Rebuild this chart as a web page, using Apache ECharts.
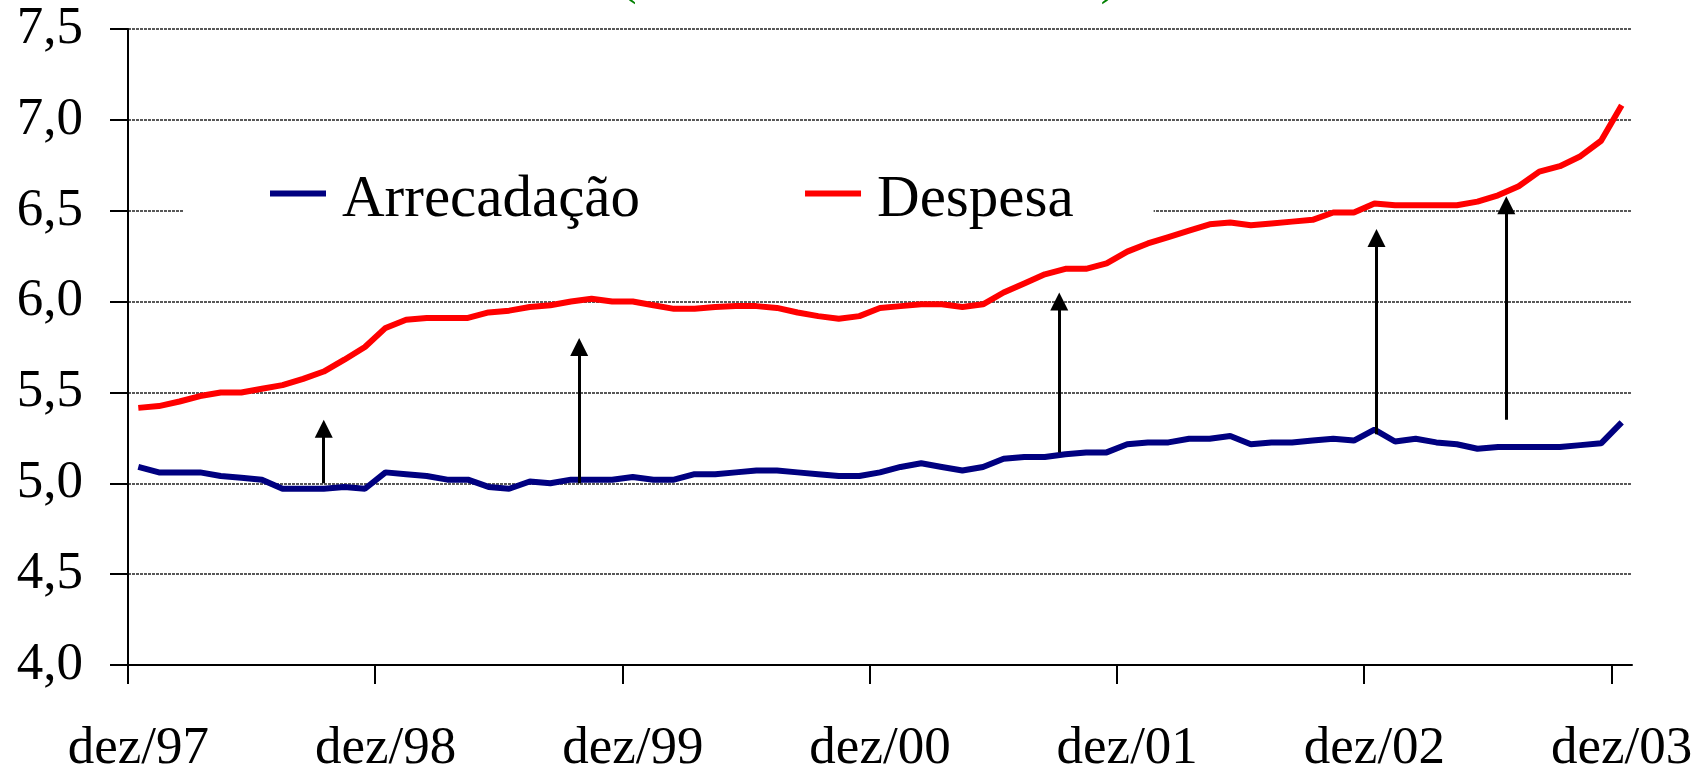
<!DOCTYPE html>
<html>
<head>
<meta charset="utf-8">
<title>Arrecadação x Despesa</title>
<script src="https://cdn.jsdelivr.net/npm/echarts@6/dist/echarts.min.js"></script>
<style>
  html, body { margin: 0; padding: 0; background: #fff; }
  #chart { width: 1706px; height: 777px; }
</style>
</head>
<body>
<div id="chart"></div>
<script>
// meses de dez/97 a dez/03
const monthNames = ['jan', 'fev', 'mar', 'abr', 'mai', 'jun', 'jul', 'ago', 'set', 'out', 'nov', 'dez']
const years = ['97', '98', '99', '00', '01', '02', '03']
const categories = ['dez/97']
for (let y = 1; y < years.length; y++) {
  monthNames.forEach(m => categories.push(m + '/' + years[y]))
}

const arrecadacao = [
  5.09, 5.06, 5.06, 5.06, 5.04, 5.03, 5.02, 4.97, 4.97, 4.97, 4.98, 4.97,
  5.06, 5.05, 5.04, 5.02, 5.02, 4.98, 4.97, 5.01, 5.00, 5.02, 5.02, 5.02,
  5.035, 5.02, 5.02, 5.05, 5.05, 5.06, 5.07, 5.07, 5.06, 5.05, 5.04, 5.04,
  5.06, 5.09, 5.11, 5.09, 5.07, 5.09, 5.135, 5.145, 5.145, 5.16, 5.17, 5.17,
  5.215, 5.225, 5.225, 5.245, 5.245, 5.26, 5.215, 5.225, 5.225, 5.235, 5.245, 5.235,
  5.295, 5.23, 5.245, 5.225, 5.215, 5.19, 5.2, 5.2, 5.2, 5.2, 5.21, 5.22,
  5.335
]

const despesa = [
  5.415, 5.425, 5.45, 5.48, 5.50, 5.50, 5.52, 5.54, 5.575, 5.615, 5.68, 5.75,
  5.855, 5.90, 5.91, 5.91, 5.91, 5.94, 5.95, 5.97, 5.98, 6.00, 6.015, 6.00,
  6.00, 5.98, 5.96, 5.96, 5.97, 5.975, 5.975, 5.965, 5.94, 5.92, 5.905, 5.92,
  5.965, 5.975, 5.985, 5.985, 5.97, 5.985, 6.05, 6.10, 6.15, 6.18, 6.18, 6.21,
  6.275, 6.32, 6.355, 6.39, 6.425, 6.435, 6.42, 6.43, 6.44, 6.45, 6.49, 6.49,
  6.54, 6.53, 6.53, 6.53, 6.53, 6.55, 6.585, 6.635, 6.715, 6.745, 6.80, 6.885,
  7.08
]

// setas (posição em meses a partir de dez/97, valor inicial e final)
const arrowX = [9.5, 21.9, 45.2, 60.6, 66.9]
const arrowFrom = [5.0, 5.0, 5.17, 5.27, 5.35]
const arrowTo = [5.30, 5.75, 6.0, 6.35, 6.53]

const yearTicks = [0, 12, 24, 36, 48, 60, 72]

const font = 'Liberation Serif, Times New Roman, serif'

const chart = echarts.init(document.getElementById('chart'))

chart.setOption({
  animation: false,
  backgroundColor: '#fff',
  title: {
    text: '(' + ' '.repeat(35) + ')',
    left: 614,
    top: -52,
    textStyle: { color: '#008000', fontFamily: font, fontSize: 53, fontWeight: 'normal' }
  },
  grid: { left: 128, right: 74, top: 29, bottom: 112 },
  legend: {
    data: ['Arrecadação', 'Despesa'],
    left: 183,
    top: 151,
    z: 4,
    padding: [20, 80, 20, 87],
    backgroundColor: '#fff',
    itemGap: 165,
    itemWidth: 56,
    itemHeight: 20,
    // traço no topo do ícone, um pouco acima do centro do texto
    icon: 'path://M0,0L56,0L56,6L0,6ZM0,20L56,20',
    itemStyle: { borderWidth: 0 },
    textStyle: { fontFamily: font, fontSize: 59, color: '#000', padding: [0, 0, 0, 11] }
  },
  xAxis: [
    {
      type: 'category',
      data: categories,
      boundaryGap: true,
      axisLine: { lineStyle: { color: '#000', width: 2 } },
      axisTick: { show: false },
      axisLabel: {
        interval: 11,
        margin: 58,
        color: '#000',
        fontFamily: font,
        fontSize: 53
      },
      splitLine: { show: false }
    },
    {
      type: 'value',
      min: 0,
      max: categories.length,
      position: 'bottom',
      axisLine: { show: false },
      axisTick: {
        show: true,
        customValues: yearTicks,
        length: 19,
        lineStyle: { color: '#000', width: 2 }
      },
      axisLabel: { show: false },
      splitLine: { show: false }
    }
  ],
  yAxis: {
    type: 'value',
    min: 4,
    max: 7.5,
    interval: 0.5,
    axisLine: { show: true, lineStyle: { color: '#000', width: 2 } },
    axisTick: { show: true, length: 18, lineStyle: { color: '#000', width: 2 } },
    axisLabel: {
      margin: 45,
      color: '#000',
      fontFamily: font,
      fontSize: 53,
      formatter: v => v.toFixed(1).replace('.', ',')
    },
    splitLine: { show: true, lineStyle: { color: '#222', width: 1.5, type: [3, 1] } }
  },
  series: [
    {
      name: 'Arrecadação',
      type: 'line',
      data: arrecadacao,
      symbol: 'none',
      color: '#000080',
      lineStyle: { color: '#000080', width: 6 },
      z: 6
    },
    {
      name: 'Despesa',
      type: 'line',
      data: despesa,
      symbol: 'none',
      color: '#ff0000',
      lineStyle: { color: '#ff0000', width: 6 },
      z: 6
    },
    {
      type: 'lines',
      coordinateSystem: 'cartesian2d',
      xAxisIndex: 1,
      yAxisIndex: 0,
      symbol: ['none', 'triangle'],
      symbolSize: [15, 18],
      lineStyle: { color: '#000', width: 3, opacity: 1 },
      z: 7,
      data: arrowX.map((x, i) => ({ coords: [[x, arrowFrom[i]], [x, arrowTo[i]]] }))
    }
  ]
})
</script>
</body>
</html>
